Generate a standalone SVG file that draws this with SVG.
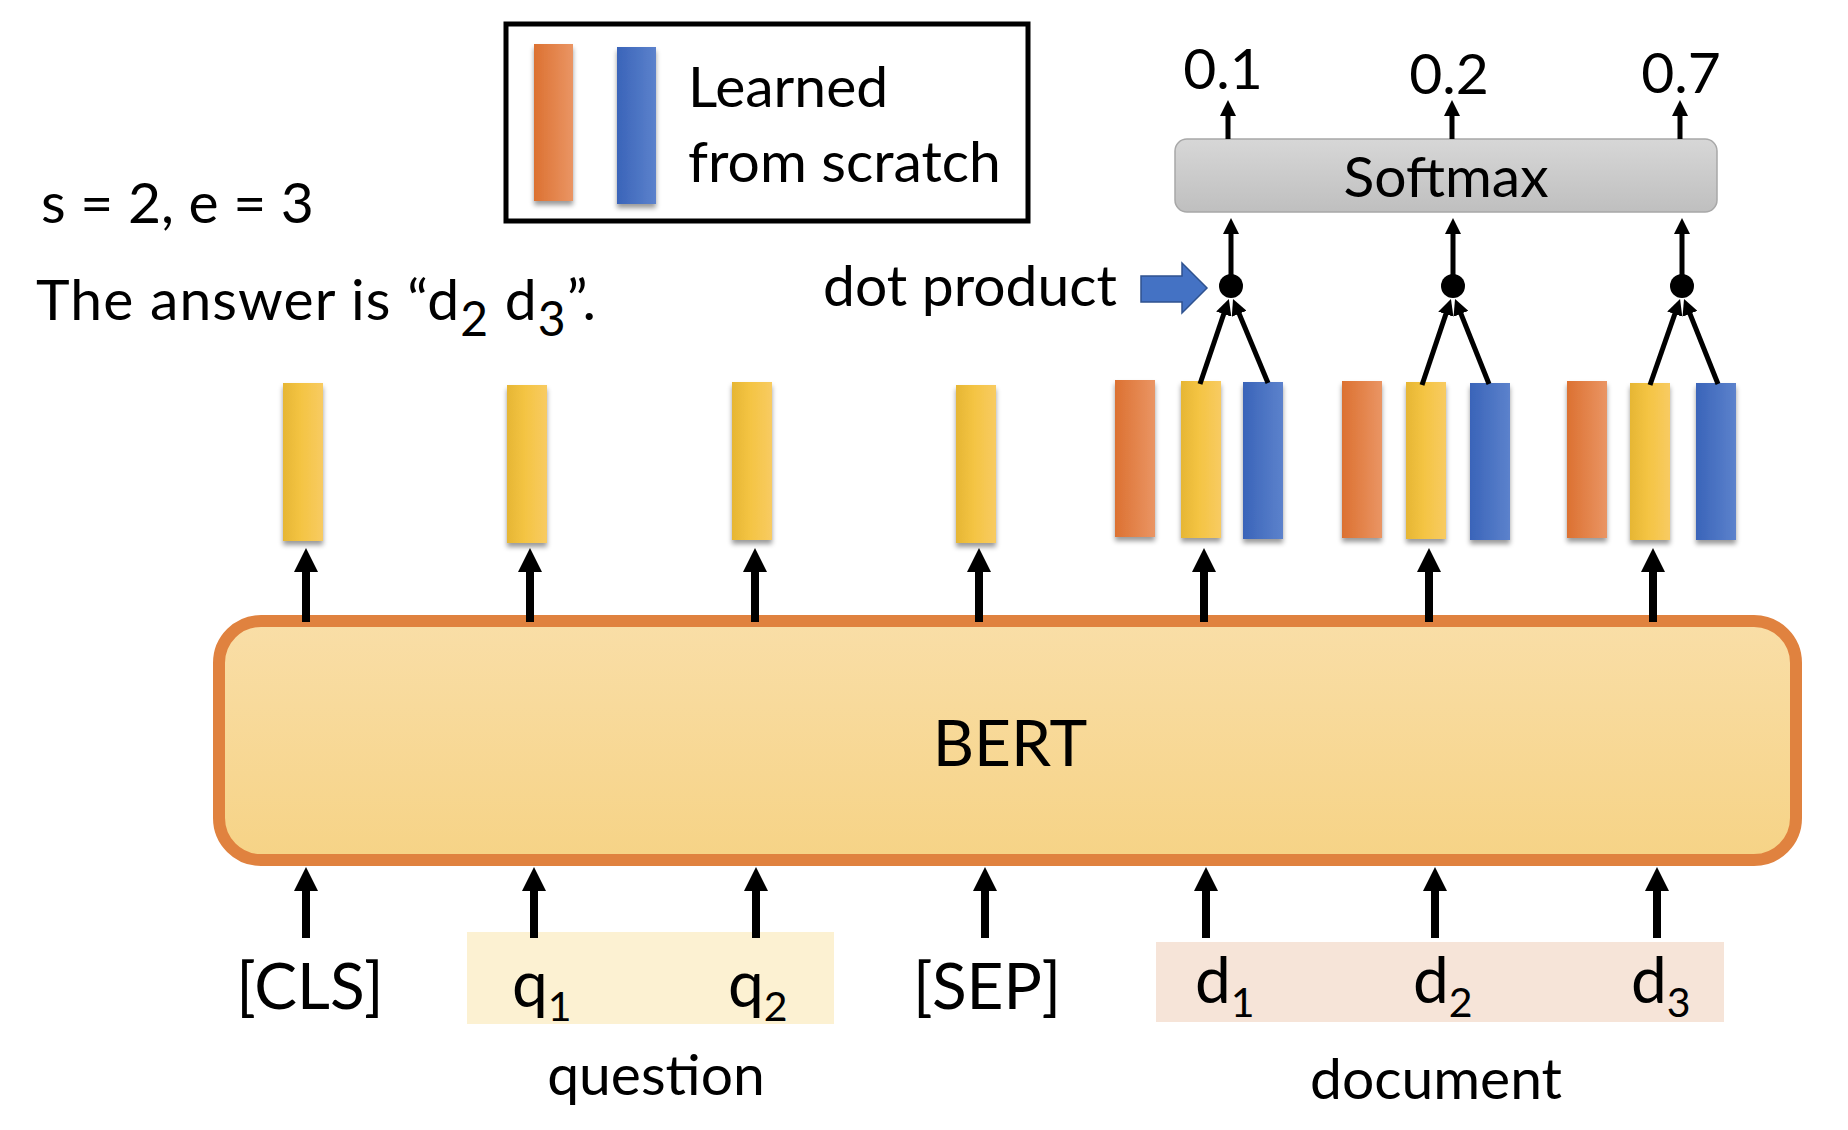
<svg xmlns="http://www.w3.org/2000/svg" width="1848" height="1130" viewBox="0 0 1848 1130">
<defs>
<style>
text{font-family:Lato,"Open Sans","Liberation Sans",sans-serif;fill:#000}
.t{font-size:57px}
.lab{font-size:64px}
.sub{font-size:41px}
.bert{font-size:64px}
.arr{stroke:#000;stroke-width:8;fill:none;marker-end:url(#ah)}
.sarr{stroke:#000;stroke-width:5;fill:none;marker-end:url(#as)}
.bar{filter:url(#sh)}
</style>
<linearGradient id="gy" x1="0" x2="1" y1="0" y2="0"><stop offset="0" stop-color="#E6B634"/><stop offset="0.45" stop-color="#F4C443"/><stop offset="1" stop-color="#F8CB62"/></linearGradient>
<linearGradient id="go" x1="0" x2="1" y1="0" y2="0"><stop offset="0" stop-color="#DC7131"/><stop offset="1" stop-color="#EA9564"/></linearGradient>
<linearGradient id="gb" x1="0" x2="1" y1="0" y2="0"><stop offset="0" stop-color="#3A64B9"/><stop offset="1" stop-color="#5C82CC"/></linearGradient>
<linearGradient id="gbert" x1="0" x2="0" y1="0" y2="1"><stop offset="0" stop-color="#F9DEA7"/><stop offset="1" stop-color="#F6D386"/></linearGradient>
<linearGradient id="gsm" x1="0" x2="0" y1="0" y2="1"><stop offset="0" stop-color="#D7D7D7"/><stop offset="1" stop-color="#BFBFBF"/></linearGradient>
<filter id="sh" x="-30%" y="-10%" width="160%" height="125%"><feDropShadow dx="0" dy="4" stdDeviation="2.5" flood-color="#000" flood-opacity="0.4"/></filter>
<marker id="ah" viewBox="0 0 24 24" refX="12" refY="12" markerWidth="24" markerHeight="24" orient="auto" markerUnits="userSpaceOnUse"><path d="M0,0 L24,12 L0,24 z" fill="#000"/></marker>
<marker id="as" viewBox="0 0 16 16" refX="8" refY="8" markerWidth="16" markerHeight="16" orient="auto" markerUnits="userSpaceOnUse"><path d="M0,0 L16,8 L0,16 z" fill="#000"/></marker>
</defs>
<rect width="1848" height="1130" fill="#fff"/>

<g id="legend">
<rect x="506" y="24" width="522" height="197" fill="none" stroke="#000" stroke-width="5"/>
<rect class="bar" x="534" y="44" width="39" height="157" fill="url(#go)"/>
<rect class="bar" x="617" y="47" width="39" height="157" fill="url(#gb)"/>
<text class="t" x="688" y="107" font-size="58">Learned</text>
<text class="t" x="688" y="182" font-size="58">from scratch</text>
</g>

<g id="label-se"><text class="t" x="41" y="223" font-size="56">s = 2, e = 3</text></g>
<g id="label-answer"><text class="t" x="36" y="320" font-size="59" textLength="560" lengthAdjust="spacing">The answer is “d<tspan font-size="48" dy="16">2</tspan><tspan dy="-16"> d</tspan><tspan font-size="48" dy="16">3</tspan><tspan dy="-16">”.</tspan></text></g>

<g id="dot-product">
<text class="t" x="823" y="306" font-size="58">dot product</text>
<path d="M1141,276 L1182,276 L1182,263 L1207,288 L1182,313 L1182,302 L1141,302 Z" fill="#4472C4" stroke="#2F528F" stroke-width="1.5"/>
</g>

<g id="softmax">
<rect x="1175" y="139" width="542" height="73" rx="12" fill="url(#gsm)" stroke="#A8A8A8" stroke-width="1.5"/>
<text class="t" x="1446" y="197" text-anchor="middle">Softmax</text>
</g>

<g id="outputs">
<text class="t" x="1223" y="89" text-anchor="middle">0.1</text>
<text class="t" x="1449" y="94" text-anchor="middle">0.2</text>
<text class="t" x="1681" y="93" text-anchor="middle">0.7</text>
</g>

<g id="dots" fill="#000">
<circle cx="1231" cy="286" r="12"/>
<circle cx="1453" cy="286" r="12"/>
<circle cx="1682" cy="286" r="12"/>
</g>

<g id="vectors">
<rect class="bar" x="283" y="383" width="40" height="158" fill="url(#gy)"/>
<rect class="bar" x="507" y="385" width="40" height="158" fill="url(#gy)"/>
<rect class="bar" x="732" y="382" width="40" height="158" fill="url(#gy)"/>
<rect class="bar" x="956" y="385" width="40" height="158" fill="url(#gy)"/>
<rect class="bar" x="1115" y="380" width="40" height="157" fill="url(#go)"/>
<rect class="bar" x="1181" y="381" width="40" height="157" fill="url(#gy)"/>
<rect class="bar" x="1243" y="382" width="40" height="157" fill="url(#gb)"/>
<rect class="bar" x="1342" y="381" width="40" height="157" fill="url(#go)"/>
<rect class="bar" x="1406" y="382" width="40" height="157" fill="url(#gy)"/>
<rect class="bar" x="1470" y="383" width="40" height="157" fill="url(#gb)"/>
<rect class="bar" x="1567" y="381" width="40" height="157" fill="url(#go)"/>
<rect class="bar" x="1630" y="383" width="40" height="157" fill="url(#gy)"/>
<rect class="bar" x="1696" y="383" width="40" height="157" fill="url(#gb)"/>
</g>

<g id="bert">
<rect x="219" y="621" width="1577" height="239" rx="42" fill="url(#gbert)" stroke="#E0823F" stroke-width="12"/>
<text class="bert" x="1010" y="766" text-anchor="middle">BERT</text>
</g>

<g id="inputs">
<rect x="467" y="932" width="367" height="92" fill="#FCF1D2"/>
<rect x="1156" y="942" width="568" height="80" fill="#F6E4D8"/>
<text class="lab" x="310" y="1009" text-anchor="middle">[CLS]</text>
<text class="lab" x="512" y="1007">q<tspan class="sub" dy="14">1</tspan></text>
<text class="lab" x="728" y="1007">q<tspan class="sub" dy="14">2</tspan></text>
<text class="lab" x="987" y="1009" text-anchor="middle">[SEP]</text>
<text class="lab" x="1195" y="1003">d<tspan class="sub" dy="14">1</tspan></text>
<text class="lab" x="1413" y="1003">d<tspan class="sub" dy="14">2</tspan></text>
<text class="lab" x="1631" y="1003">d<tspan class="sub" dy="14">3</tspan></text>
<text class="t" x="656" y="1095" text-anchor="middle" font-size="59">question</text>
<text class="t" x="1436" y="1099" text-anchor="middle" font-size="59">document</text>
</g>

<g id="connectors">
<line class="arr" x1="306" y1="938" x2="306" y2="879"/>
<line class="arr" x1="534" y1="938" x2="534" y2="879"/>
<line class="arr" x1="756" y1="938" x2="756" y2="879"/>
<line class="arr" x1="985" y1="938" x2="985" y2="879"/>
<line class="arr" x1="1206" y1="938" x2="1206" y2="879"/>
<line class="arr" x1="1435" y1="938" x2="1435" y2="879"/>
<line class="arr" x1="1657" y1="938" x2="1657" y2="879"/>
<line class="arr" x1="306" y1="622" x2="306" y2="560"/>
<line class="arr" x1="530" y1="622" x2="530" y2="560"/>
<line class="arr" x1="755" y1="622" x2="755" y2="560"/>
<line class="arr" x1="979" y1="622" x2="979" y2="560"/>
<line class="arr" x1="1204" y1="622" x2="1204" y2="560"/>
<line class="arr" x1="1429" y1="622" x2="1429" y2="560"/>
<line class="arr" x1="1653" y1="622" x2="1653" y2="560"/>
<line class="sarr" x1="1200" y1="384" x2="1226.3" y2="306.5"/>
<line class="sarr" x1="1268" y1="383" x2="1236.1" y2="306.4"/>
<line class="sarr" x1="1422" y1="385" x2="1448.4" y2="306.6"/>
<line class="sarr" x1="1489" y1="384" x2="1458" y2="306.4"/>
<line class="sarr" x1="1650" y1="385" x2="1677.4" y2="306.6"/>
<line class="sarr" x1="1718" y1="384" x2="1687" y2="306.4"/>
<line class="sarr" x1="1231" y1="280" x2="1231" y2="226" stroke-width="4.5"/>
<line class="sarr" x1="1453" y1="280" x2="1453" y2="226" stroke-width="4.5"/>
<line class="sarr" x1="1682" y1="280" x2="1682" y2="226" stroke-width="4.5"/>
<line class="sarr" x1="1228" y1="139" x2="1228" y2="108" stroke-width="4.5"/>
<line class="sarr" x1="1452" y1="139" x2="1452" y2="108" stroke-width="4.5"/>
<line class="sarr" x1="1680" y1="139" x2="1680" y2="108" stroke-width="4.5"/>
</g>
</svg>
